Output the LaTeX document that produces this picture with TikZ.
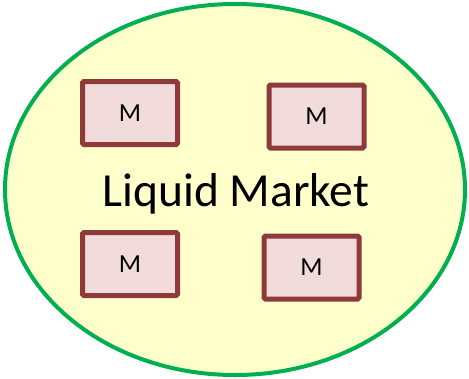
\documentclass[tikz,border=0pt]{standalone}
\usepackage{fontspec}
\setmainfont{Carlito}
\definecolor{ringgreen}{HTML}{00B050}
\definecolor{liqfill}{HTML}{FFFFCC}
\definecolor{boxline}{HTML}{8E3A3A}
\definecolor{boxfill}{HTML}{F2DCDB}
\begin{document}
\begin{tikzpicture}[x=1pt,y=-1pt,
  mbox/.style={draw=boxline,fill=boxfill,line width=5pt,rounded corners=1.5pt,
    minimum width=95pt,minimum height=63pt,inner sep=0pt,font=\fontsize{26}{30}\selectfont}]
\useasboundingbox (0,0) rectangle (469,378);
\draw[draw=ringgreen,fill=liqfill,line width=4pt] (235,189.5) ellipse [x radius=230, y radius=185.5];
\node[font=\fontsize{47.5}{52}\selectfont,anchor=base] (label) at (236,206) {Liquid Market};
\node[mbox] (m1) at (130,113) {M};
\node[mbox] (m2) at (316.5,116.5) {M};
\node[mbox] (m3) at (130,264) {M};
\node[mbox] (m4) at (311.5,267.5) {M};
\end{tikzpicture}
\end{document}
